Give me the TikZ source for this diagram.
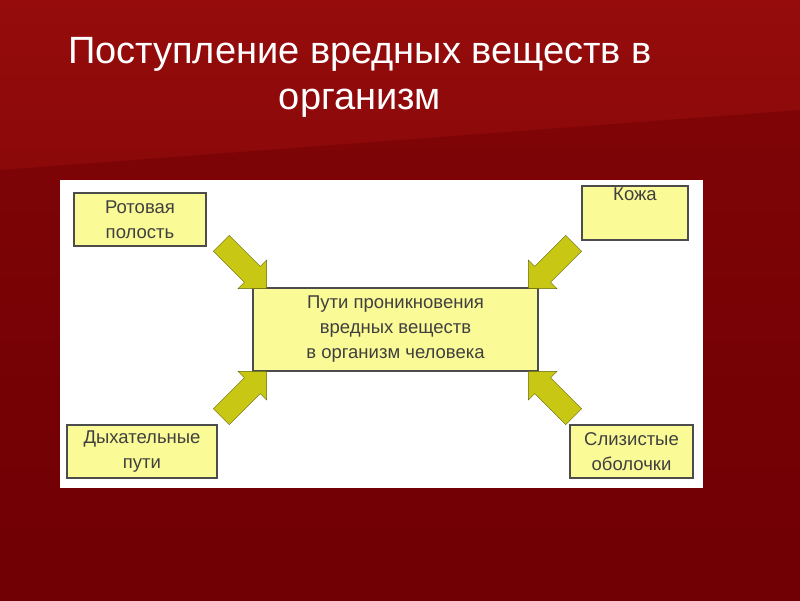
\documentclass[tikz,border=0pt]{standalone}
\usepackage{fontspec}
\setmainfont{Liberation Sans}
\usetikzlibrary{shapes.arrows}
\definecolor{bgtop}{RGB}{150,12,12}
\definecolor{bgbot}{RGB}{112,0,4}
\definecolor{boxfill}{RGB}{250,250,150}
\definecolor{arrowfill}{RGB}{200,200,20}

\begin{document}
\begin{tikzpicture}[x=1pt,y=-1pt]
    \tikzstyle{item}=[draw=black!70, line width=1.2pt, fill=boxfill, align=center,
        text=black!75, font=\fontsize{18.5}{25}\selectfont, inner sep=0pt]
    \tikzstyle{push}=[single arrow, draw=arrowfill!50!black, fill=arrowfill,
        minimum height=64pt, inner sep=11pt, single arrow head extend=9pt]

    % background
    \useasboundingbox (0,0) rectangle (800,600);
    \shade[top color=bgtop, bottom color=bgbot] (0,0) rectangle (800,600);
    \fill[bgbot, opacity=0.5] (0,170) -- (800,110) -- (800,600) -- (0,600) -- cycle;

    % title
    \node[text=white, font=\fontsize{38}{46}\selectfont, align=center] (title) at (360,77)
        {Поступление вредных веществ в\\организм};

    % panel
    \fill[white] (60,180) rectangle (703,488);

    \node[item, minimum width=285pt, minimum height=83pt] (center) at (395.5,329.5)
        {Пути проникновения\\вредных веществ\\в организм человека};
    \node[item, minimum width=132pt, minimum height=53pt] (mouth) at (140,219.5) {Ротовая\\полость};
    \node[item, minimum width=106pt, minimum height=54pt] (skin) at (635,213) {Кожа\\[12pt]};
    \node[item, minimum width=150pt, minimum height=53pt] (breath) at (142,451.5) {Дыхательные\\пути};
    \node[item, minimum width=123pt, minimum height=53pt] (mucous) at (631.5,451.5) {Слизистые\\оболочки};

    \node[push, rotate=-45] (a-mouth) at (240,262) {};
    \node[push, rotate=-135] (a-skin) at (555,262) {};
    \node[push, rotate=45] (a-breath) at (240,398) {};
    \node[push, rotate=135] (a-mucous) at (555,398) {};
\end{tikzpicture}
\end{document}
